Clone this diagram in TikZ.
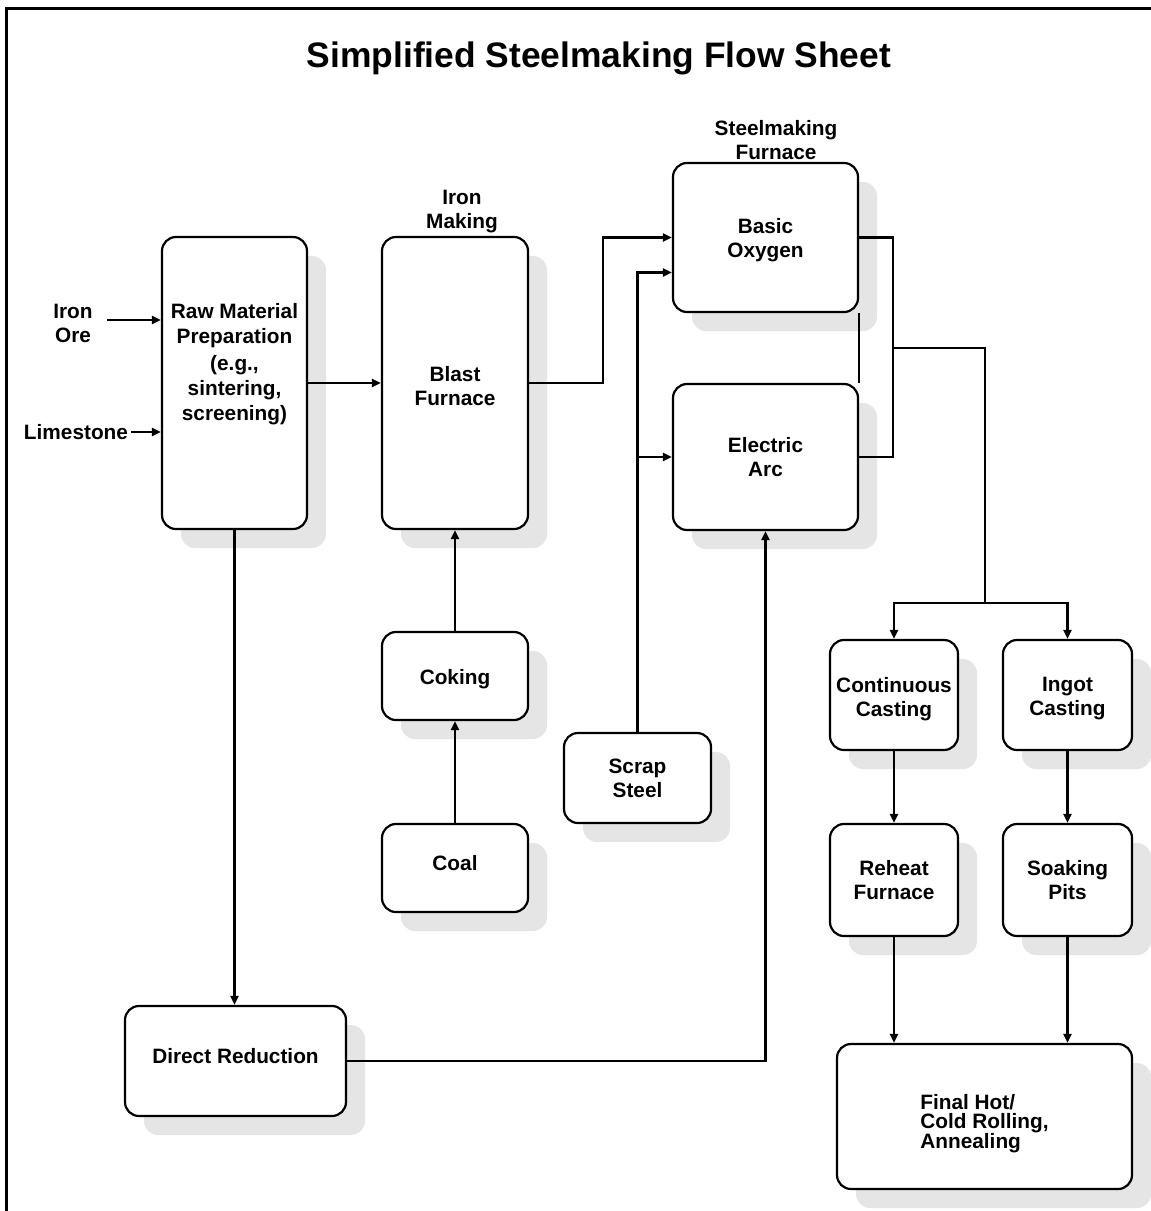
\documentclass[tikz,border=0pt]{standalone}
\usepackage{fontspec}
\setmainfont{Liberation Sans}
\usetikzlibrary{arrows.meta,shadows}

\tikzset{
  procbox/.style={draw, line width=2.2pt, rounded corners=14pt, fill=white, align=center, inner sep=0pt,
    drop shadow={shadow xshift=19pt, shadow yshift=-19pt, fill=black!10, opacity=1}},
  lbl/.style={align=center, inner sep=0pt},
  arr/.style={line width=2.2pt, -{Triangle[length=9pt,width=8pt]}},
  ln/.style={line width=2.2pt}
}

\begin{document}
\begin{tikzpicture}[x=1pt,y=-1pt,font=\bfseries\fontsize{20.8}{24}\selectfont]
  \useasboundingbox (0,0) rectangle (1151,1211);
  \draw[line width=3pt] (6,1215) -- (6,8) -- (1155,8);

  \node[lbl,font=\bfseries\fontsize{35.4}{40}\selectfont] (title) at (599,58) {Simplified Steelmaking Flow Sheet};

  % inputs
  \node[lbl] (ore) at (73,323) {Iron\\Ore};
  \node[lbl] (lime) at (76,432) {Limestone};

  % boxes
  \node[procbox, minimum width=145pt, minimum height=292pt] (raw) at (234.5,383)
    [label={[lbl,yshift=19pt]center:{Raw Material\\[1pt]Preparation\\[3pt](e.g.,\\[1pt]sintering,\\[1pt]screening)}}] {};
  \node[procbox, minimum width=146pt, minimum height=292pt] (blast) at (455,383)
    [label={[lbl,yshift=-3pt]center:{Blast\\Furnace}}] {};
  \node[lbl] (ironlbl) at (462,212) {Iron\\Making};
  \node[procbox, minimum width=146pt, minimum height=88pt] (coking) at (455,676)
    [label={[lbl,yshift=-3pt]center:Coking}] {};
  \node[procbox, minimum width=146pt, minimum height=88pt] (coal) at (455,868)
    [label={[lbl,yshift=5pt]center:Coal}] {};
  \node[procbox, minimum width=147pt, minimum height=90pt] (scrap) at (637.5,778) {Scrap\\Steel};

  \node[lbl] (furnlbl) at (776,140) {Steelmaking\\Furnace};
  \node[procbox, minimum width=185pt, minimum height=149pt] (bo) at (765.5,237.5)
    [label={[lbl,yshift=-3pt]center:{Basic\\Oxygen}}] {};
  \node[procbox, minimum width=185pt, minimum height=146pt] (ea) at (765.5,457) {Electric\\Arc};

  \node[procbox, minimum width=128pt, minimum height=110pt] (cc) at (894,695)
    [label={[lbl,yshift=-4pt]center:{Continuous\\Casting}}] {};
  \node[procbox, minimum width=129pt, minimum height=110pt] (ingot) at (1067.5,695)
    [label={[lbl,yshift=-4pt]center:{Ingot\\Casting}}] {};
  \node[procbox, minimum width=128pt, minimum height=112pt] (reheat) at (894,880) {Reheat\\Furnace};
  \node[procbox, minimum width=129pt, minimum height=112pt] (soak) at (1067.5,880) {Soaking\\Pits};
  \node[procbox, minimum width=295pt, minimum height=145pt] (final) at (984.5,1116.5)
    [label={[lbl,align=left,yshift=-7pt,font=\bfseries\fontsize{20.8}{19}\selectfont]center:{Final Hot/\\Cold Rolling,\\Annealing}}] {};
  \node[procbox, minimum width=221pt, minimum height=110pt] (dr) at (235.5,1061)
    [label={[lbl,yshift=5pt]center:Direct Reduction}] {};

  % connectors
  \draw[arr] ([xshift=14pt,yshift=3pt]ore.east) -- ([yshift=3pt]ore.east -| raw.west);
  \draw[arr] ([xshift=3pt]lime.east) -- (lime.east -| raw.west);
  \draw[arr] (raw.east) -- (blast.west);
  \draw[arr] (raw.south) -- (raw.south |- dr.north);
  \draw[arr] (coal.north) -- (coking.south);
  \draw[arr] (coking.north) -- (blast.south);
  \draw[arr] (blast.east) -- ++(74,0) |- (bo.west);
  \draw[arr] (scrap.north) |- ([yshift=-35pt]bo.west);
  \draw[arr] (scrap.north) |- (ea.west);
  \draw[arr] (dr.east) -| (ea.south);

  \coordinate (j1) at (893,348);
  \coordinate (j2) at (985,603);
  \draw[ln] (bo.south east) -- (ea.north east);
  \draw[ln] (bo.east) -| (j1) |- (ea.east);
  \draw[ln] (j1) -| (j2);
  \draw[arr] (j2) -| (cc.north);
  \draw[arr] (j2) -| (ingot.north);

  \draw[arr] (cc.south) -- (reheat.north);
  \draw[arr] (ingot.south) -- (soak.north);
  \draw[arr] (reheat.south) -- (reheat.south |- final.north);
  \draw[arr] (soak.south) -- (soak.south |- final.north);
\end{tikzpicture}
\end{document}
